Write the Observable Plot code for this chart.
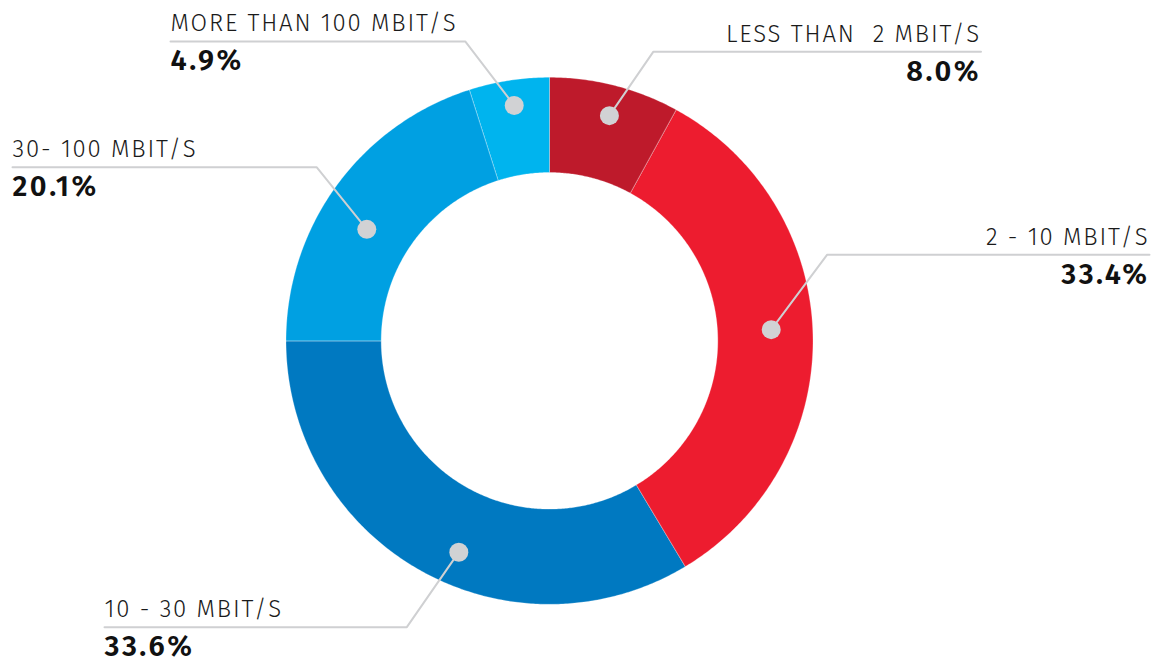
<!DOCTYPE html>
<html>
<head>
<meta charset="utf-8">
<script src="https://cdn.jsdelivr.net/npm/d3@7"></script>
<script src="https://cdn.jsdelivr.net/npm/@observablehq/plot@0.6"></script>
<style>
  html, body { margin: 0; padding: 0; background: #fff; }
  #chart svg text { white-space: pre; }
</style>
</head>
<body>
<div id="chart"></div>
<script>
// ---- data ----
const categories = ["LESS THAN  2 MBIT/S", "2 - 10 MBIT/S", "10 - 30 MBIT/S", "30- 100 MBIT/S", "MORE THAN 100 MBIT/S"];
const shares = [8.0, 33.4, 33.6, 20.1, 4.9];
const colors = ["#be1a2b", "#ed1c2f", "#0079c1", "#00a0e2", "#00b4ee"];

// ---- layout (annotation placement, in pixels relative to the donut centre) ----
const outerR = 263.5, innerR = 168.3;
const cx = 549, cy = 340.3, W = 1161, H = 659;
const labelLayout = [
  {side: "right", dotNudge: 0.5,  dotR: 233, elbow: [44, 64],   endX: 431.5},
  {side: "right", dotNudge: -1.8, dotR: 222, elbow: [56, 75],   endX: 600},
  {side: "left",  dotNudge: -6.3, dotR: 230, elbow: [-52, -75], endX: -445},
  {side: "left",  dotNudge: -4.8, dotR: 214, elbow: [-50, 62],  endX: -537},
  {side: "left",  dotNudge: 0.3,  dotR: 238, elbow: [-49, 64],  endX: -379}
];

// ---- derived geometry ----
const total = d3.sum(shares);
const rad = a => a * Math.PI / 180;
let acc = 0;
const slices = categories.map((name, i) => {
  const a0 = acc / total * 360;
  acc += shares[i];
  const a1 = acc / total * 360;
  return {name, a0, a1, mid: (a0 + a1) / 2, value: shares[i]};
});

const ringPts = [];
for (const s of slices) {
  const n = Math.max(2, Math.ceil((s.a1 - s.a0) / 0.5));
  for (let k = 0; k <= n; k++) {
    const a = rad(s.a0 + (s.a1 - s.a0) * k / n);
    ringPts.push({name: s.name, x: outerR * Math.sin(a), y: outerR * Math.cos(a)});
  }
  for (let k = n; k >= 0; k--) {
    const a = rad(s.a0 + (s.a1 - s.a0) * k / n);
    ringPts.push({name: s.name, x: innerR * Math.sin(a), y: innerR * Math.cos(a)});
  }
}

const dots = [], leaders = [], labels = [];
slices.forEach((s, i) => {
  const L = labelLayout[i];
  const a = rad(s.mid + L.dotNudge);
  const dx = L.dotR * Math.sin(a), dy = L.dotR * Math.cos(a);
  const ex = dx + L.elbow[0], ey = dy + L.elbow[1];
  dots.push({name: s.name, x: dx, y: dy});
  leaders.push({name: s.name, x: dx, y: dy}, {name: s.name, x: ex, y: ey}, {name: s.name, x: L.endX, y: ey});
  labels.push({name: s.name, side: L.side, x: L.endX, y: ey, pct: s.value.toFixed(1) + "%"});
});

const font = "'Fira Sans', 'Open Sans', 'Noto Sans', sans-serif";
const textMarks = [];
for (const side of ["right", "left"]) {
  const data = labels.filter(d => d.side === side);
  const anchor = side === "right" ? "end" : "start";
  textMarks.push(
    Plot.text(data, {x: "x", y: "y", text: "name", textAnchor: anchor, lineAnchor: "bottom", dy: -10,
      fontSize: 24, fill: "#1a1a1a", fontFamily: font, fontWeight: 300}),
    Plot.text(data, {x: "x", y: "y", text: "pct", textAnchor: anchor, lineAnchor: "bottom", dy: 29,
      fontSize: 29, fill: "#111", fontFamily: font, fontWeight: 600})
  );
}

const chart = Plot.plot({
  width: W, height: H, margin: 0,
  style: {background: "#fff", fontFamily: font},
  x: {domain: [-cx, W - cx], axis: null},
  y: {domain: [cy - H, cy], axis: null},
  color: {domain: categories, range: colors},
  marks: [
    Plot.line(ringPts, {x: "x", y: "y", z: "name", fill: "name", stroke: "#ffffff", strokeOpacity: 0.35, strokeWidth: 0.8, curve: "linear-closed"}),
    Plot.line(leaders, {x: "x", y: "y", z: "name", stroke: "#cfd0d2", strokeWidth: 2}),
    Plot.dot(dots, {x: "x", y: "y", r: 9.5, fill: "#d1d2d4", stroke: null}),
    ...textMarks
  ]
});
d3.select(chart).selectAll('g[font-weight="300"]').attr("letter-spacing", "1.8px");
d3.select(chart).selectAll('g[font-weight="600"]').attr("letter-spacing", "2.5px");
document.getElementById("chart").appendChild(chart);
</script>
</body>
</html>
